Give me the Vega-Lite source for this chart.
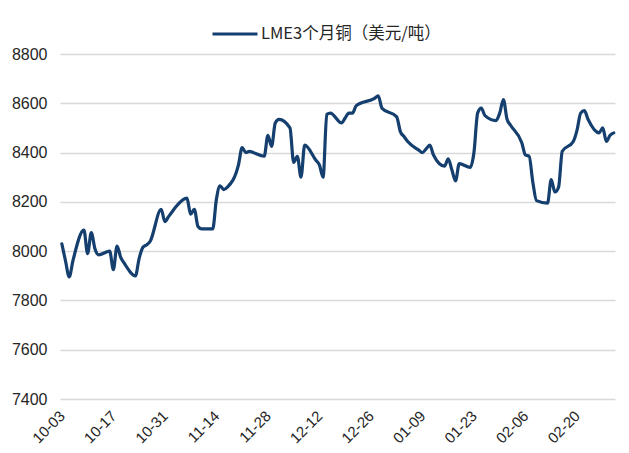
{
  "$schema": "https://vega.github.io/schema/vega-lite/v6.json",
  "width": 555,
  "height": 345,
  "autosize": {"type": "none"},
  "padding": {"left": 60, "top": 54, "right": 14, "bottom": 54},
  "background": "white",
  "config": {"view": {"stroke": null}},
  "data": {"values": [
    {"date": "2023-10-03", "price": 8030},
    {"date": "2023-10-04", "price": 7960},
    {"date": "2023-10-05", "price": 7895},
    {"date": "2023-10-06", "price": 7960},
    {"date": "2023-10-09", "price": 8085},
    {"date": "2023-10-10", "price": 7990},
    {"date": "2023-10-11", "price": 8075},
    {"date": "2023-10-12", "price": 8010},
    {"date": "2023-10-13", "price": 7985},
    {"date": "2023-10-16", "price": 8000},
    {"date": "2023-10-17", "price": 7925},
    {"date": "2023-10-18", "price": 8020},
    {"date": "2023-10-19", "price": 7975},
    {"date": "2023-10-20", "price": 7950},
    {"date": "2023-10-23", "price": 7900},
    {"date": "2023-10-24", "price": 7970},
    {"date": "2023-10-25", "price": 8015},
    {"date": "2023-10-26", "price": 8025},
    {"date": "2023-10-27", "price": 8040},
    {"date": "2023-10-30", "price": 8170},
    {"date": "2023-10-31", "price": 8120},
    {"date": "2023-11-01", "price": 8140},
    {"date": "2023-11-02", "price": 8160},
    {"date": "2023-11-03", "price": 8180},
    {"date": "2023-11-06", "price": 8215},
    {"date": "2023-11-07", "price": 8150},
    {"date": "2023-11-08", "price": 8170},
    {"date": "2023-11-09", "price": 8100},
    {"date": "2023-11-10", "price": 8090},
    {"date": "2023-11-13", "price": 8090},
    {"date": "2023-11-14", "price": 8210},
    {"date": "2023-11-15", "price": 8265},
    {"date": "2023-11-16", "price": 8250},
    {"date": "2023-11-17", "price": 8260},
    {"date": "2023-11-20", "price": 8350},
    {"date": "2023-11-21", "price": 8420},
    {"date": "2023-11-22", "price": 8400},
    {"date": "2023-11-23", "price": 8405},
    {"date": "2023-11-24", "price": 8400},
    {"date": "2023-11-27", "price": 8385},
    {"date": "2023-11-28", "price": 8470},
    {"date": "2023-11-29", "price": 8425},
    {"date": "2023-11-30", "price": 8520},
    {"date": "2023-12-01", "price": 8535},
    {"date": "2023-12-04", "price": 8500},
    {"date": "2023-12-05", "price": 8360},
    {"date": "2023-12-06", "price": 8385},
    {"date": "2023-12-07", "price": 8300},
    {"date": "2023-12-08", "price": 8430},
    {"date": "2023-12-11", "price": 8370},
    {"date": "2023-12-12", "price": 8350},
    {"date": "2023-12-13", "price": 8300},
    {"date": "2023-12-14", "price": 8555},
    {"date": "2023-12-15", "price": 8560},
    {"date": "2023-12-18", "price": 8520},
    {"date": "2023-12-19", "price": 8540},
    {"date": "2023-12-20", "price": 8560},
    {"date": "2023-12-21", "price": 8560},
    {"date": "2023-12-22", "price": 8590},
    {"date": "2023-12-27", "price": 8620},
    {"date": "2023-12-28", "price": 8630},
    {"date": "2023-12-29", "price": 8580},
    {"date": "2024-01-02", "price": 8545},
    {"date": "2024-01-03", "price": 8485},
    {"date": "2024-01-04", "price": 8465},
    {"date": "2024-01-05", "price": 8445},
    {"date": "2024-01-08", "price": 8410},
    {"date": "2024-01-09", "price": 8400},
    {"date": "2024-01-10", "price": 8415},
    {"date": "2024-01-11", "price": 8430},
    {"date": "2024-01-12", "price": 8390},
    {"date": "2024-01-15", "price": 8345},
    {"date": "2024-01-16", "price": 8375},
    {"date": "2024-01-17", "price": 8330},
    {"date": "2024-01-18", "price": 8285},
    {"date": "2024-01-19", "price": 8355},
    {"date": "2024-01-22", "price": 8340},
    {"date": "2024-01-23", "price": 8400},
    {"date": "2024-01-24", "price": 8560},
    {"date": "2024-01-25", "price": 8580},
    {"date": "2024-01-26", "price": 8550},
    {"date": "2024-01-29", "price": 8530},
    {"date": "2024-01-30", "price": 8560},
    {"date": "2024-01-31", "price": 8615},
    {"date": "2024-02-01", "price": 8535},
    {"date": "2024-02-02", "price": 8510},
    {"date": "2024-02-05", "price": 8440},
    {"date": "2024-02-06", "price": 8390},
    {"date": "2024-02-07", "price": 8385},
    {"date": "2024-02-08", "price": 8280},
    {"date": "2024-02-09", "price": 8205},
    {"date": "2024-02-12", "price": 8195},
    {"date": "2024-02-13", "price": 8290},
    {"date": "2024-02-14", "price": 8240},
    {"date": "2024-02-15", "price": 8260},
    {"date": "2024-02-16", "price": 8405},
    {"date": "2024-02-19", "price": 8445},
    {"date": "2024-02-20", "price": 8490},
    {"date": "2024-02-21", "price": 8560},
    {"date": "2024-02-22", "price": 8570},
    {"date": "2024-02-23", "price": 8535},
    {"date": "2024-02-26", "price": 8480},
    {"date": "2024-02-27", "price": 8500},
    {"date": "2024-02-28", "price": 8445},
    {"date": "2024-02-29", "price": 8470},
    {"date": "2024-03-01", "price": 8480}
  ]},
  "mark": {"type": "line", "interpolate": "monotone", "strokeWidth": 3.2, "strokeCap": "round", "strokeJoin": "round"},
  "encoding": {
    "x": {
      "field": "date",
      "type": "temporal",
      "scale": {"type": "utc", "domain": [
        {"year": 2023, "month": 10, "date": 2, "hours": 12, "utc": true},
        {"year": 2024, "month": 3, "date": 1, "hours": 8, "utc": true}
      ]},
      "axis": {
        "title": null,
        "values": [
          {"year": 2023, "month": 10, "date": 3, "utc": true},
          {"year": 2023, "month": 10, "date": 17, "utc": true},
          {"year": 2023, "month": 10, "date": 31, "utc": true},
          {"year": 2023, "month": 11, "date": 14, "utc": true},
          {"year": 2023, "month": 11, "date": 28, "utc": true},
          {"year": 2023, "month": 12, "date": 12, "utc": true},
          {"year": 2023, "month": 12, "date": 26, "utc": true},
          {"year": 2024, "month": 1, "date": 9, "utc": true},
          {"year": 2024, "month": 1, "date": 23, "utc": true},
          {"year": 2024, "month": 2, "date": 6, "utc": true},
          {"year": 2024, "month": 2, "date": 20, "utc": true}
        ],
        "labelExpr": "utcFormat(datum.value, '%m-%d')",
        "labelAngle": -45,
        "labelAlign": "right",
        "labelBaseline": "middle",
        "labelPadding": 14,
        "labelFontSize": 15,
        "labelFont": "Liberation Sans",
        "labelColor": "#262626",
        "labelOverlap": false,
        "domain": false,
        "ticks": false,
        "grid": false
      }
    },
    "y": {
      "field": "price",
      "type": "quantitative",
      "scale": {"domain": [7400, 8800], "nice": false, "zero": false},
      "axis": {
        "title": null,
        "values": [7400, 7600, 7800, 8000, 8200, 8400, 8600, 8800],
        "format": "d",
        "domain": false,
        "ticks": false,
        "grid": true,
        "gridColor": "#d9d9d9",
        "gridWidth": 1.5,
        "labelPadding": 13,
        "labelFontSize": 16,
        "labelFont": "Liberation Sans",
        "labelColor": "#262626"
      }
    },
    "color": {
      "datum": "LME3个月铜（美元/吨）",
      "type": "nominal",
      "scale": {"range": ["#143f6e"]},
      "legend": {
        "title": null,
        "orient": "none",
        "legendX": 151,
        "legendY": -44,
        "symbolType": "stroke",
        "symbolSize": 2025,
        "symbolStrokeWidth": 3,
        "labelFont": "Noto Sans CJK SC",
        "labelFontSize": 16.5,
        "labelLimit": 0,
        "labelColor": "#262626",
        "labelOffset": 2
      }
    }
  }
}
